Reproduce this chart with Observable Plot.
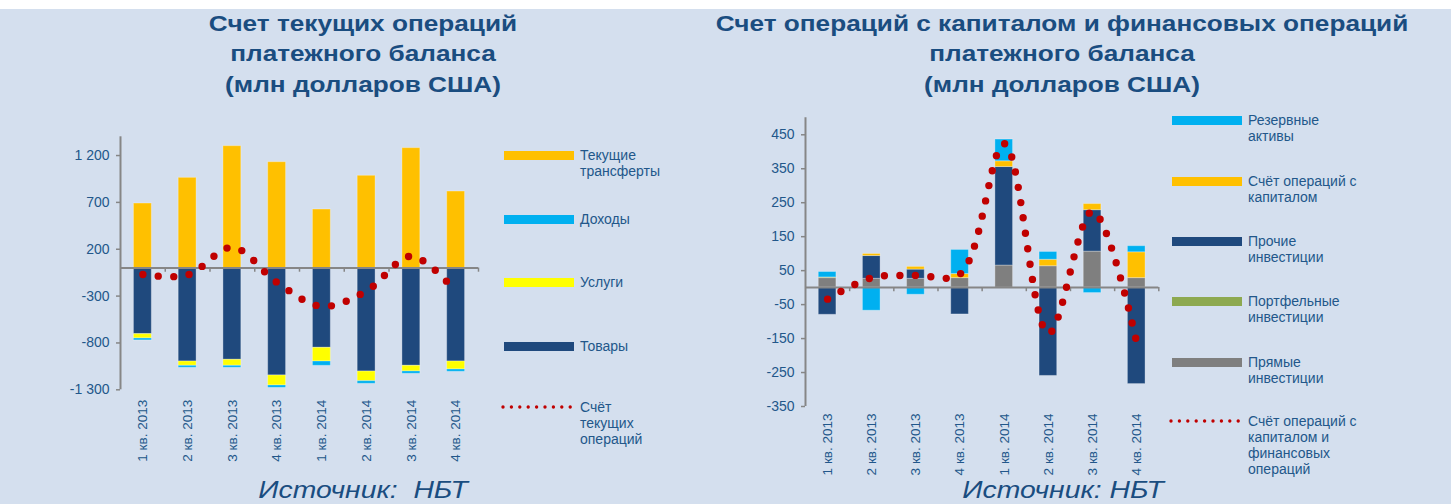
<!DOCTYPE html>
<html><head><meta charset="utf-8">
<script src="https://cdn.jsdelivr.net/npm/d3@7"></script>
<script src="https://cdn.jsdelivr.net/npm/@observablehq/plot@0.6"></script>
<style>
body{margin:0;background:#fff;}
#page{position:relative;width:1451px;height:504px;overflow:hidden;background:#d4dfee;font-family:"Liberation Sans",Arial,sans-serif;}
#topband{position:absolute;left:0;top:0;width:1451px;height:9px;background:#fff;}
.title{position:absolute;top:9px;width:600px;text-align:center;font-weight:bold;font-size:22px;line-height:30.3px;color:#1a4d80;transform:scaleX(1.19);transform-origin:center;white-space:nowrap;}
.source{position:absolute;top:478px;width:300px;text-align:center;font-style:italic;font-size:24px;line-height:24px;color:#1a4d80;transform:scaleX(1.18);transform-origin:center;white-space:nowrap;}
.plot{position:absolute;top:0;}
.leg{position:absolute;font-size:14px;line-height:16px;color:#22578a;}
.sw{position:absolute;width:70px;height:9px;}
</style></head>
<body><div id="page"><div id="topband"></div></div>
<script>
// ---------- data ----------
const quarters = ["1 кв. 2013","2 кв. 2013","3 кв. 2013","4 кв. 2013","1 кв. 2014","2 кв. 2014","3 кв. 2014","4 кв. 2014"];

// Left chart: current account (mln USD)
const goods     = [-706, -998, -980, -1147, -852, -1105, -1044, -998];
const services  = [-46, -46, -64, -107, -146, -103, -60, -85];
const income    = [-21, -21, -21, -25, -46, -28, -25, -25];
const transfers = [688, 962, 1300, 1129, 624, 984, 1279, 816];
const currentAccount = [-70, -75, 220, -155, -410, -245, 125, -255];
const leftSeries = ["Товары", "Услуги", "Доходы", "Текущие трансферты"];
const leftColors = ["#1F497D", "#FFFF00", "#00B0F0", "#FFC000"];
const leftTicks = [-1300, -800, -300, 200, 700, 1200];

// Right chart: capital and financial account (mln USD)
const direct    = [28, 26, 26, 28, 65, 63, 106, 28];
const portfolio = [2, 0, 0, 0, 0, 0, 0, 0];
const other     = [-80, 67, 27, -79, 290, -260, 122, -284];
const capital   = [0, 6, 8, 12, 17, 19, 18, 76];
const reserves  = [16, -68, -21, 71, 64, 23, -16, 18];
const capFin    = [-34, 29, 36, 40, 424, -135, 225, -162];
const rightSeries = ["Прямые инвестиции", "Портфельные инвестиции", "Прочие инвестиции", "Счёт операций с капиталом", "Резервные активы"];
const rightColors = ["#7F7F7F", "#8DA950", "#1F497D", "#FFC000", "#00B0F0"];
const rightTicks = [-350, -250, -150, -50, 50, 150, 250, 350, 450];

// ---------- helpers ----------
const loc = d3.formatLocale({decimal: ",", thousands: " ", grouping: [3], currency: ["", ""], minus: "-"});
const fmt = loc.format(",d");
const labelColor = "#22578a";
const axisGray = "#868686";

function rowsOf(series, values) {
  return series.flatMap((s, k) => quarters.map((q, i) => ({q, s, v: values[k][i]})));
}

function chart({rows, series, colors, line, ticks, domain, width, mL, mR, mT, mB, labelPad, tickUnit}) {
  const step = (width - mL - mR) / quarters.length;
  return Plot.plot({
    width, height: 504,
    marginLeft: mL, marginRight: mR, marginTop: mT, marginBottom: mB,
    style: {background: "transparent", fontFamily: "'Liberation Sans', Arial, sans-serif", overflow: "visible"},
    x: {type: "band", domain: quarters, paddingInner: 0.6, paddingOuter: 0.3, round: false, label: null},
    y: {domain, label: null},
    color: {domain: series, range: colors},
    marks: [
      Plot.barY(rows, {x: "q", y: "v", fill: "s", stroke: "white", strokeOpacity: 0.3, strokeWidth: 1}),
      Plot.ruleY([0], {stroke: axisGray, strokeWidth: 2}),
      Plot.ruleX(quarters, {x: d => d, dx: step / 2, y1: 0, y2: -tickUnit, stroke: axisGray, strokeWidth: 1.5}),
      Plot.ruleX([quarters[0]], {x: d => d, dx: -step / 2, y1: domain[0], y2: domain[1], stroke: axisGray, strokeWidth: 2}),
      Plot.axisY({ticks, tickFormat: fmt, tickSize: 4, tickPadding: 7, stroke: axisGray, strokeWidth: 1.5, fill: labelColor, fontSize: 14, label: null}),
      Plot.axisX({tickSize: 0, tickRotate: -90, tickPadding: labelPad, fill: labelColor, fontSize: 13.5, label: null}),
      Plot.line(line, {x: "q", y: "v", curve: "catmull-rom", stroke: "#C00000", strokeWidth: 7.4, strokeDasharray: "0 15.5", strokeLinecap: "round"})
    ]
  });
}

const page = document.getElementById("page");

const left = chart({
  rows: rowsOf(leftSeries, [goods, services, income, transfers]),
  series: leftSeries, colors: leftColors,
  line: quarters.map((q, i) => ({q, v: currentAccount[i]})),
  ticks: leftTicks, domain: [-1300, 1400],
  width: 500, mL: 120, mR: 22, mT: 136.3, mB: 114.7, labelPad: 10, tickUnit: 45
});
left.classList.add("plot"); left.style.left = "0px";
page.appendChild(left);

const right = chart({
  rows: rowsOf(rightSeries, [direct, portfolio, other, capital, reserves]),
  series: rightSeries, colors: rightColors,
  line: quarters.map((q, i) => ({q, v: capFin[i]})),
  ticks: rightTicks, domain: [-350, 500],
  width: 480, mL: 105, mR: 21.7, mT: 117.3, mB: 98, labelPad: 7, tickUnit: 12
});
right.classList.add("plot"); right.style.left = "700px";
page.appendChild(right);

// ---------- titles ----------
function addDiv(cls, html, css) {
  const d = document.createElement("div");
  d.className = cls; d.innerHTML = html;
  Object.assign(d.style, css);
  page.appendChild(d);
  return d;
}
addDiv("title", "Счет текущих операций<br>платежного баланса<br>(млн долларов США)", {left: (362.5 - 300) + "px"});
addDiv("title", "Счет операций с капиталом и финансовых операций<br>платежного баланса<br>(млн долларов США)", {left: (1062 - 300) + "px"});
addDiv("source", "Источник:&nbsp; НБТ", {left: (363 - 150) + "px"});
addDiv("source", "Источник: НБТ", {left: (1062.5 - 150) + "px"});

// ---------- legends ----------
const leftLegend = [
  {label: "Текущие<br>трансферты", color: "#FFC000", y: 155},
  {label: "Доходы", color: "#00B0F0", y: 219},
  {label: "Услуги", color: "#FFFF00", y: 282},
  {label: "Товары", color: "#1F497D", y: 346},
  {label: "Счёт<br>текущих<br>операций", dotted: true, y: 407}
];
const rightLegend = [
  {label: "Резервные<br>активы", color: "#00B0F0", y: 120},
  {label: "Счёт операций с<br>капиталом", color: "#FFC000", y: 181},
  {label: "Прочие<br>инвестиции", color: "#1F497D", y: 241},
  {label: "Портфельные<br>инвестиции", color: "#8DA950", y: 301},
  {label: "Прямые<br>инвестиции", color: "#7F7F7F", y: 362},
  {label: "Счёт операций с<br>капиталом и<br>финансовых<br>операций", dotted: true, y: 421}
];
function legend(items, swX, textX) {
  for (const it of items) {
    if (it.dotted) {
      const ns = "http://www.w3.org/2000/svg";
      const s = document.createElementNS(ns, "svg");
      s.setAttribute("width", 76); s.setAttribute("height", 10);
      s.style.position = "absolute"; s.style.left = (swX - 3) + "px"; s.style.top = (it.y - 5) + "px";
      const l = document.createElementNS(ns, "line");
      l.setAttribute("x1", 2); l.setAttribute("x2", 72); l.setAttribute("y1", 5); l.setAttribute("y2", 5);
      l.setAttribute("stroke", "#C00000"); l.setAttribute("stroke-width", 3.4);
      l.setAttribute("stroke-linecap", "round"); l.setAttribute("stroke-dasharray", "0 8.4");
      s.appendChild(l); page.appendChild(s);
    } else {
      addDiv("sw", "", {left: swX + "px", top: (it.y - 4.5) + "px", background: it.color});
    }
    addDiv("leg", it.label, {left: textX + "px", top: (it.y - 8) + "px"});
  }
}
legend(leftLegend, 504, 580);
legend(rightLegend, 1172, 1248);
</script></body></html>
